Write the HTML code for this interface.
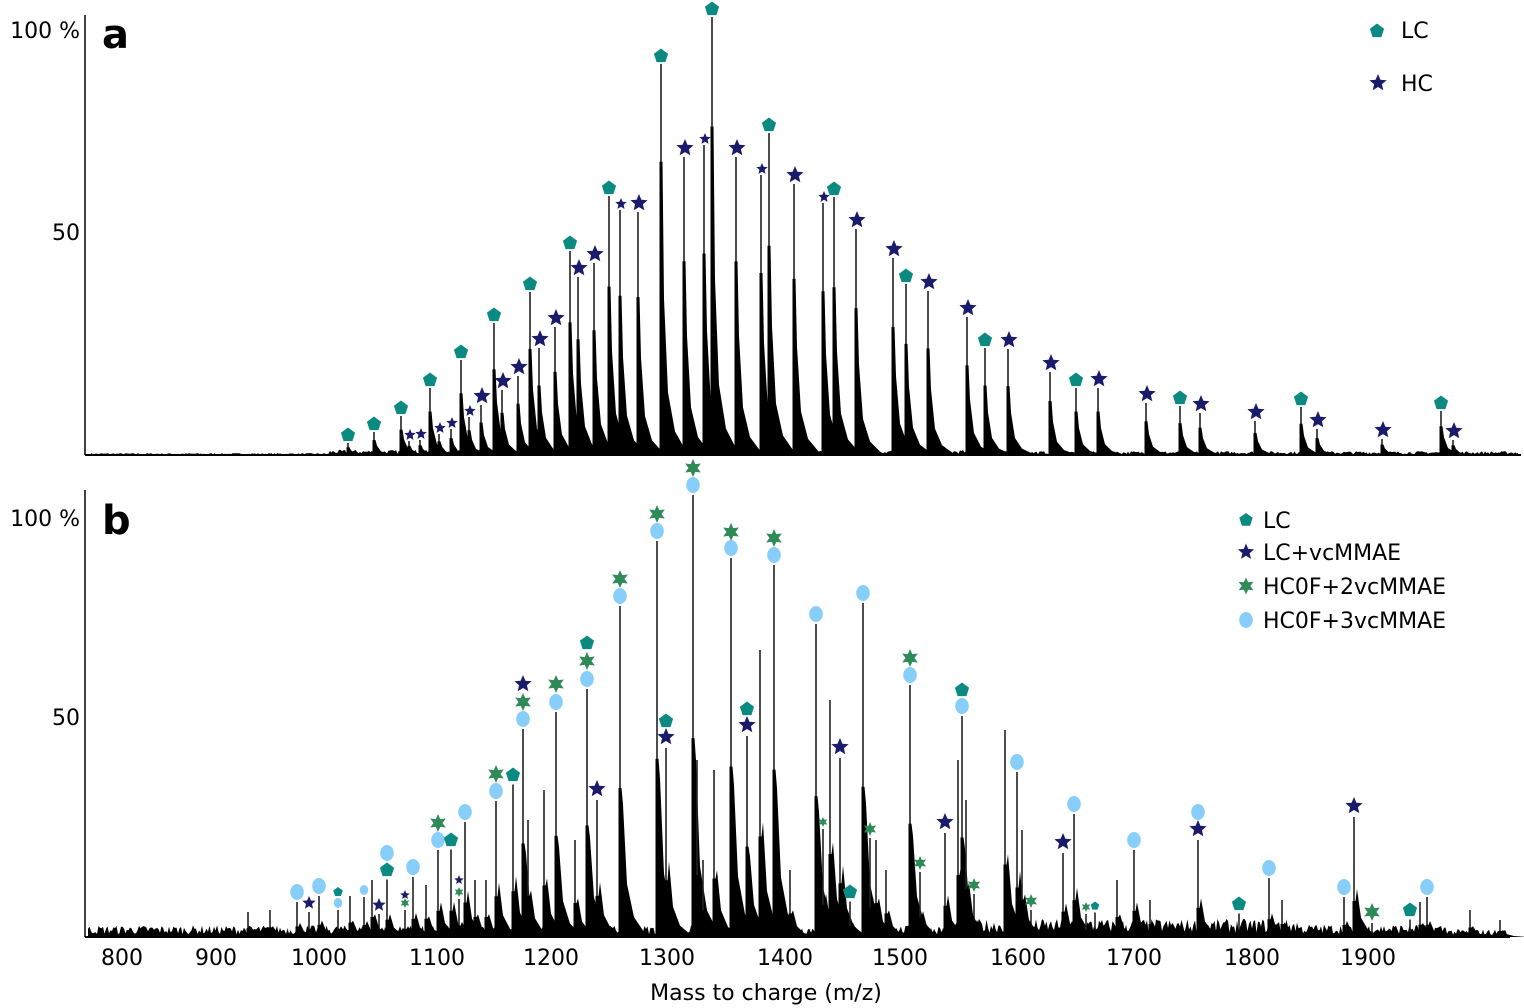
<!DOCTYPE html>
<html><head><meta charset="utf-8"><style>
html,body{margin:0;padding:0;background:#fff;}
svg{display:block;font-family:"DejaVu Sans","Liberation Sans",sans-serif;}
</style></head><body>
<svg id="s" width="1524" height="1008" viewBox="0 0 1524 1008" xmlns="http://www.w3.org/2000/svg"></svg>
<script>
const S=document.getElementById('s');let out='';
const TEAL='#0b8a82',NAVY='#1b1b6b',GREEN='#2e8b57',LB='#87cefa';
let seed=7;function rnd(){seed=(seed*16807)%2147483647;return seed/2147483647;}
function pent(x,y,r,c){let p=[];for(let i=0;i<5;i++){let a=-Math.PI/2+i*2*Math.PI/5;p.push((x+r*Math.cos(a)).toFixed(1)+','+(y+r*Math.sin(a)).toFixed(1));}out+=`<polygon points="${p.join(' ')}" fill="${c}"/>`;}
function star(x,y,r,n,ri,c){let p=[];for(let i=0;i<2*n;i++){let a=-Math.PI/2+i*Math.PI/n;let rr=i%2?r*ri:r;p.push((x+rr*Math.cos(a)).toFixed(1)+','+(y+rr*Math.sin(a)).toFixed(1));}out+=`<polygon points="${p.join(' ')}" fill="${c}"/>`;}
function circ(x,y,r,c){out+=`<ellipse cx="${x}" cy="${y}" rx="${r*0.85}" ry="${r}" fill="${c}"/>`;}
function peak(x,top,base,solid){let h=base-top;out+=`<line x1="${x}" y1="${top}" x2="${x}" y2="${base}" stroke="#222" stroke-width="1.6"/>`;
 let s=solid===undefined?0.72:solid;
 out+=`<polygon points="${x-1.5},${base} ${x-1.5},${base-s*h} ${x+1.5},${base-s*h} ${x+3},${base-0.4*h} ${x+7},${base-0.16*h} ${x+14},${base-0.06*h} ${x+24},${base-0.015*h} ${x+30},${base}" fill="#000"/>`;}
function noise(x0,x1,base,amp){let p=`${x0},${base}`;for(let x=x0;x<=x1;x+=1.5){p+=` ${x},${(base-amp(x)*(0.3+rnd())).toFixed(1)}`;}p+=` ${x1},${base}`;out+=`<polygon points="${p}" fill="#000"/>`;}
// ---------- Panel a ----------
const BA=455;
noise(90,1518,BA,x=>x<330?1.5:x<1000?4:3);
const aL=[[348,435],[374,424],[401,408],[430,380],[461,352],[494,315],[530,284],[570,243],[609,188],[661,56],[712,9],[769,125],[834,189],[906,276],[985,340],[1076,380],[1180,398],[1301,399],[1441,403]];
const aH=[[410,435,1],[421,434,1],[440,428,1],[452,423,1],[470,411,1],[482,396,0],[503,381,0],[519,367,0],[540,339,0],[556,318,0],[579,268,0],[595,254,0],[621,204,1],[639,203,0],[685,148,0],[705,139,1],[737,148,0],[762,169,1],[795,175,0],[824,197,1],[857,220,0],[894,249,0],[929,282,0],[968,308,0],[1009,340,0],[1051,363,0],[1099,379,0],[1147,394,0],[1201,404,0],[1256,412,0],[1318,420,0],[1383,430,0],[1454,431,0]];
aL.forEach(([x,y])=>peak(x,y+8,BA,y<100?0.75:0.65));
aH.forEach(([x,y,s])=>peak(x-1,y+(s?6:9),BA,0.65));
aL.forEach(([x,y])=>pent(x,y,7.5,TEAL));
aH.forEach(([x,y,s])=>star(x,y,s?6:9,5,0.45,NAVY));
out+=`<line x1="85" y1="15" x2="85" y2="${BA}" stroke="#000" stroke-width="1.5"/><line x1="85" y1="${BA}" x2="1521" y2="${BA}" stroke="#000" stroke-width="2"/>`;
out+=`<text x="80" y="38" font-size="22" text-anchor="end">100 %</text><text x="80" y="240" font-size="22" text-anchor="end">50</text>`;
out+=`<text x="102" y="48" font-size="40" font-weight="bold">a</text>`;
pent(1377,31,7.5,TEAL);out+=`<text x="1401" y="38" font-size="22">LC</text>`;
star(1378,83,9,5,0.45,NAVY);out+=`<text x="1401" y="91" font-size="22">HC</text>`;
// ---------- Panel b ----------
const BB=937;
noise(88,1508,BB,x=>x<950?9:x<1300?14:x<1450?10:6);
const C=[[297,892,8],[319,886,8],[338,903,5],[364,890,5],[387,853,8],[413,867,8],[438,840,8],[465,812,8],[496,791,8],[523,719,8],[556,702,8],[587,679,8],[620,596,8],[657,531,8],[693,485,8],[731,548,8],[774,555,8],[816,614,8],[863,593,8],[910,675,8],[962,706,8],[1017,762,8],[1074,804,8],[1134,840,8],[1198,812,8],[1269,868,8],[1344,887,8],[1427,887,8]];
const G=[[438,823,9],[496,774,9],[523,702,9],[556,684,9],[587,661,9],[620,579,9],[657,514,9],[693,468,9],[731,532,9],[774,538,9],[823,822,5],[870,829,7],[910,658,9],[920,863,7],[974,885,7],[1031,901,7],[1086,907,5],[1372,912,9],[405,903,5],[459,892,5]];
const P=[[387,870,7.5],[338,892,5],[451,840,7.5],[513,775,7.5],[587,643,7.5],[666,721,7.5],[747,709,7.5],[850,892,7.5],[962,690,7.5],[1239,904,7.5],[1410,910,7.5],[1095,906,4.5]];
const N=[[309,903,7],[379,905,7],[405,895,5],[459,880,5],[523,684,9],[597,789,9],[666,737,9],[747,725,9],[840,747,9],[945,822,9],[1063,842,9],[1198,829,9],[1354,806,9]];
let tops={};[...C,...G,...P,...N].forEach(([x,y,r])=>{let k=x;let b=y+r+2;if(!(k in tops)||tops[k]<b)tops[k]=b;});
Object.keys(tops).forEach(k=>{let x=+k;let t=tops[k];let big=(BB-t)>200;peak(x,t,BB,big?0.45:0.3);});
[[544,790],[528,820],[575,840],[697,760],[703,860],[714,770],[760,650],[790,870],[830,700],[876,840],[886,870],[1005,730],[1022,830],[1117,880],[1150,900],[1282,900],[1420,902],[1470,910],[1500,920],[350,896],[372,880],[426,885],[475,880],[486,880],[248,912],[270,910],[958,760],[966,800]].forEach(([x,t])=>peak(x,t,BB,0.35));
C.forEach(([x,y,r])=>circ(x,y,r,LB));
G.forEach(([x,y,r])=>star(x,y,r,6,0.5,GREEN));
P.forEach(([x,y,r])=>pent(x,y,r,TEAL));
N.forEach(([x,y,r])=>star(x,y,r,5,0.45,NAVY));
out+=`<line x1="85" y1="490" x2="85" y2="${BB}" stroke="#000" stroke-width="1.5"/><line x1="85" y1="${BB}" x2="1510" y2="${BB}" stroke="#000" stroke-width="2"/>`;
out+=`<text x="80" y="526" font-size="22" text-anchor="end">100 %</text><text x="80" y="725" font-size="22" text-anchor="end">50</text>`;
out+=`<text x="102" y="534" font-size="40" font-weight="bold">b</text>`;
pent(1246,520,7,TEAL);out+=`<text x="1263" y="528" font-size="22">LC</text>`;
star(1246,552,8.5,5,0.45,NAVY);out+=`<text x="1263" y="560" font-size="22">LC+vcMMAE</text>`;
star(1246,586,8.5,6,0.5,GREEN);out+=`<text x="1263" y="594" font-size="22">HC0F+2vcMMAE</text>`;
circ(1246,620,8,LB);out+=`<text x="1263" y="628" font-size="22">HC0F+3vcMMAE</text>`;
const TX=[122,216,319,437,551,667,785,900,1018,1134,1252,1368];
TX.forEach((x,i)=>{out+=`<text x="${x}" y="965" font-size="22" text-anchor="middle">${800+i*100}</text>`;});
out+=`<text x="766" y="1000" font-size="22" text-anchor="middle">Mass to charge (m/z)</text>`;
S.innerHTML=out;
</script>
</body></html>
